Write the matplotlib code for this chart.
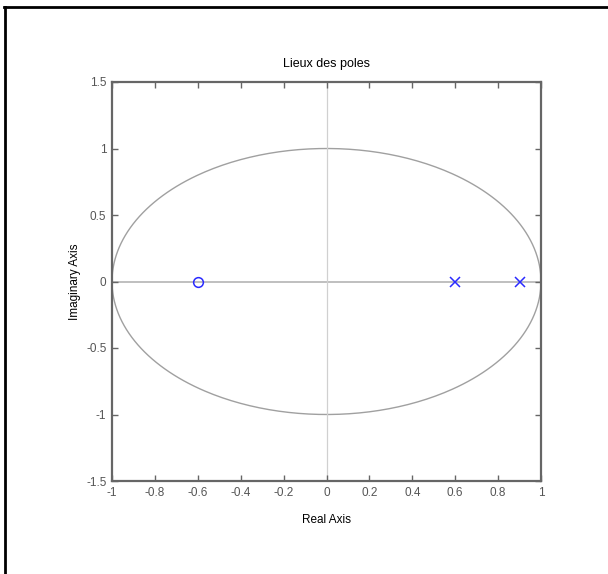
import numpy as np
import matplotlib
matplotlib.use("Agg")
import matplotlib.pyplot as plt
from matplotlib.lines import Line2D

plt.rcParams['font.family'] = ['Liberation Sans', 'DejaVu Sans']

# System zeros and poles (real parts, imaginary parts)
zeros_re = [-0.6]
zeros_im = [0.0]
poles_re = [0.6, 0.9]
poles_im = [0.0, 0.0]

xticks = [-1, -0.8, -0.6, -0.4, -0.2, 0, 0.2, 0.4, 0.6, 0.8, 1]
xtick_labels = ['-1', '-0.8', '-0.6', '-0.4', '-0.2', '0', '0.2', '0.4', '0.6', '0.8', '1']
yticks = [-1.5, -1, -0.5, 0, 0.5, 1, 1.5]
ytick_labels = ['-1.5', '-1', '-0.5', '0', '0.5', '1', '1.5']

W, H = 608, 574
fig = plt.figure(figsize=(W / 100, H / 100), dpi=100)
fig.patch.set_facecolor('white')

ax = fig.add_axes([112 / W, 1 - 481 / H, (541 - 112) / W, (481 - 82) / H])

# unit circle
th = np.linspace(0, 2 * np.pi, 400)
ax.plot(np.cos(th), np.sin(th), color='#a0a0a0', lw=1.0, zorder=1)
# reference axes through the origin
ax.axhline(0, color='#b4b4b4', lw=1.2, zorder=1)
ax.axvline(0, color='#d0d0d0', lw=0.9, zorder=1)

ax.plot(zeros_re, zeros_im, linestyle='none', marker='o', markersize=7,
        markerfacecolor='none', markeredgecolor='#2a2aff', markeredgewidth=1.1, zorder=3)
ax.plot(poles_re, poles_im, linestyle='none', marker='x', markersize=6.5,
        color='#2a2aff', markeredgewidth=1.1, zorder=3)

ax.set_xlim(-1, 1)
ax.set_ylim(-1.5, 1.5)
ax.set_xticks(xticks)
ax.set_xticklabels(xtick_labels)
ax.set_yticks(yticks)
ax.set_yticklabels(ytick_labels)

spine_c = '#666666'
for s in ax.spines.values():
    s.set_color(spine_c)
    s.set_linewidth(1.6)
ax.tick_params(direction='in', length=4, width=1, colors=spine_c,
               labelcolor='#555555', labelsize=8.5, top=True, right=True, pad=4)

ax.set_title('Lieux des poles', fontsize=9, color='black', pad=11)
ax.set_xlabel('Real Axis', fontsize=8.5, color='black', labelpad=11)
ax.set_ylabel('Imaginary Axis', fontsize=8.5, color='black', labelpad=4)

# frame edges along top and left of the figure
fig.add_artist(Line2D([4 / W, 1], [1 - 7 / H, 1 - 7 / H], transform=fig.transFigure,
                      color='black', lw=2))
fig.add_artist(Line2D([5 / W, 5 / W], [0, 1 - 7 / H], transform=fig.transFigure,
                      color='black', lw=2))

fig.savefig('out.png', dpi=100, facecolor='white')
